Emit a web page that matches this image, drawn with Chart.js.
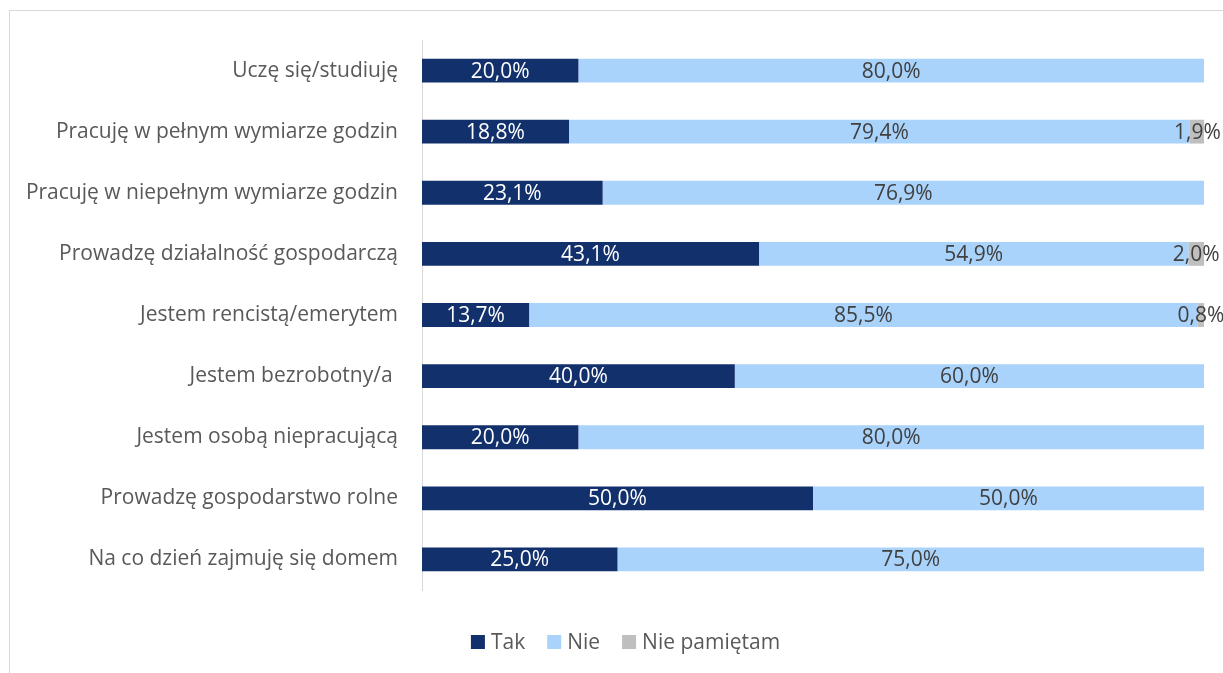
<!DOCTYPE html>
<html lang="pl">
<head>
  <meta charset="UTF-8">
  <title>Status zawodowy – odpowiedzi</title>
  <script src="https://cdn.jsdelivr.net/npm/chart.js@4"></script>
  <style>
    html, body { margin: 0; padding: 0; background: #fff; overflow: hidden; }
    .frame {
      position: absolute;
      left: 9px;
      top: 10px;
      width: 1400px;
      height: 800px;
      border: 1px solid #d9d9d9;
    }
    .wrap {
      position: absolute;
      left: 0;
      top: 0;
      width: 1223px;
      height: 673px;
    }
  </style>
</head>
<body>
  <div class="frame"></div>
  <div class="wrap"><canvas id="chart"></canvas></div>

  <script>
    const categories = [
      'Uczę się/studiuję',
      'Pracuję w pełnym wymiarze godzin',
      'Pracuję w niepełnym wymiarze godzin',
      'Prowadzę działalność gospodarczą',
      'Jestem rencistą/emerytem',
      'Jestem bezrobotny/a ',
      'Jestem osobą niepracującą',
      'Prowadzę gospodarstwo rolne',
      'Na co dzień zajmuję się domem'
    ];
    const tak = [20.0, 18.8, 23.1, 43.1, 13.7, 40.0, 20.0, 50.0, 25.0];
    const nie = [80.0, 79.4, 76.9, 54.9, 85.5, 60.0, 80.0, 50.0, 75.0];
    const niePamietam = [0, 1.9, 0, 2.0, 0.8, 0, 0, 0, 0];

    const textColor = '#595959';
    const fontFamily = '"Open Sans", sans-serif';
    const fontSize = 21;

    // wartości procentowe w środku każdego segmentu
    const barLabels = {
      id: 'barLabels',
      afterDatasetsDraw(chart) {
        const ctx = chart.ctx;
        ctx.save();
        ctx.font = fontSize + 'px ' + fontFamily;
        ctx.textAlign = 'center';
        ctx.textBaseline = 'middle';
        chart.data.datasets.forEach((ds, di) => {
          const meta = chart.getDatasetMeta(di);
          meta.data.forEach((bar, i) => {
            const v = ds.data[i];
            if (!v) return;
            const cx = (bar.x + bar.base) / 2;
            ctx.fillStyle = di === 0 ? '#ffffff' : '#404040';
            ctx.fillText(v.toFixed(1).replace('.', ',') + '%', cx, bar.y + 1);
          });
        });
        ctx.restore();
      }
    };

    // legenda pod wykresem: kwadrat, tekst, odstęp
    const bottomLegend = {
      id: 'bottomLegend',
      afterDraw(chart) {
        const ctx = chart.ctx;
        const box = 14, gap = 6, spacing = 22;
        const cy = chart.chartArea.bottom + 52;
        ctx.save();
        ctx.font = fontSize + 'px ' + fontFamily;
        ctx.textBaseline = 'middle';
        const items = chart.data.datasets.map(ds => ({
          text: ds.label,
          color: ds.backgroundColor,
          w: box + gap + ctx.measureText(ds.label).width
        }));
        const total = items.reduce((s, it) => s + it.w, 0) + spacing * (items.length - 1);
        let x = chart.width / 2 + 14 - total / 2;
        items.forEach(it => {
          ctx.fillStyle = it.color;
          ctx.fillRect(x, cy - box / 2, box, box);
          ctx.fillStyle = textColor;
          ctx.fillText(it.text, x + box + gap, cy + 1);
          x += it.w + spacing;
        });
        ctx.restore();
      }
    };

    const common = { barPercentage: 0.78, categoryPercentage: 0.5 };

    new Chart(document.getElementById('chart').getContext('2d'), {
      type: 'bar',
      data: {
        labels: categories,
        datasets: [
          { label: 'Tak', data: tak, backgroundColor: '#12306b', ...common },
          { label: 'Nie', data: nie, backgroundColor: '#a9d3fb', ...common },
          { label: 'Nie pamiętam', data: niePamietam, backgroundColor: '#bfbfbf', ...common }
        ]
      },
      options: {
        indexAxis: 'y',
        responsive: true,
        maintainAspectRatio: false,
        animation: false,
        layout: { padding: { top: 40, right: 19, bottom: 83, left: 0 } },
        scales: {
          x: {
            stacked: true,
            min: 0,
            max: 100,
            display: false
          },
          y: {
            stacked: true,
            afterFit: s => { s.width = 422; },
            grid: { display: false, drawTicks: false },
            border: { display: true, color: '#d9d9d9', width: 1 },
            ticks: {
              padding: 24,
              color: textColor,
              font: { family: fontFamily, size: fontSize }
            }
          }
        },
        plugins: {
          legend: { display: false },
          tooltip: { enabled: false }
        }
      },
      plugins: [barLabels, bottomLegend]
    });
  </script>
</body>
</html>
